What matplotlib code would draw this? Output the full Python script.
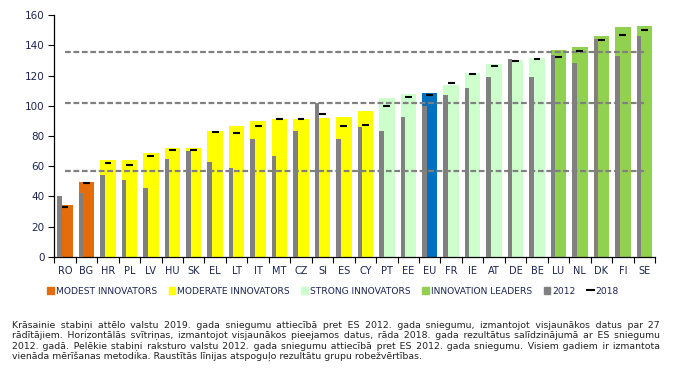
import matplotlib
matplotlib.use("Agg")
import matplotlib.pyplot as plt
from matplotlib.patches import Patch
from matplotlib.lines import Line2D

countries = ["RO", "BG", "HR", "PL", "LV", "HU", "SK", "EL", "LT", "IT", "MT", "CZ", "SI", "ES",
             "CY", "PT", "EE", "EU", "FR", "IE", "AT", "DE", "BE", "LU", "NL", "DK", "FI", "SE"]
groups = ["modest", "modest"] + ["moderate"] * 13 + ["strong", "strong", "eu"] + ["strong"] * 5 + ["leader"] * 5
perf_2019 = [34.3, 49.5, 64.1, 64.1, 68.7, 72.0, 72.0, 83.3, 86.6, 89.9, 91.3, 91.3, 91.9, 92.6,
             96.6, 105.2, 107.8, 108.5, 113.8, 121.8, 127.7, 130.4, 131.7, 137.0, 139.0, 146.3, 152.3, 152.9]
perf_2012 = [40.2, 42.2, 54.1, 50.8, 45.5, 64.8, 70.1, 62.8, 58.8, 78.0, 66.7, 83.3, 101.9, 78.0,
             86.0, 83.3, 92.6, 99.9, 107.2, 111.8, 119.1, 131.0, 119.1, 133.7, 128.4, 144.3, 133.0, 146.3]
perf_2018 = [32.9, 48.8, 62.1, 60.8, 66.7, 70.7, 70.7, 82.7, 82.0, 86.6, 91.3, 91.3, 94.6, 86.6,
             87.3, 99.9, 105.9, 107.2, 115.1, 121.1, 126.4, 129.7, 131.0, 132.4, 136.4, 143.6, 147.0, 150.3]
thresholds = [56.8, 101.9, 135.7]

group_colors = {"modest": "#E46C0A", "moderate": "#FFFF00", "strong": "#CCFFCC",
                "leader": "#92D050", "eu": "#0070C0"}
legend_labels = ["MODEST INNOVATORS", "MODERATE INNOVATORS", "STRONG INNOVATORS", "INNOVATION LEADERS"]

caption = [
    "Krāsainie stabiņi attēlo valstu 2019. gada sniegumu attiecībā pret ES 2012. gada sniegumu, izmantojot visjaunākos datus par 27",
    "rādītājiem. Horizontālās svītriņas, izmantojot visjaunākos pieejamos datus, rāda 2018. gada rezultātus salīdzinājumā ar ES sniegumu",
    "2012. gadā. Pelēkie stabiņi raksturo valstu 2012. gada sniegumu attiecībā pret ES 2012. gada sniegumu. Visiem gadiem ir izmantota",
    "vienāda mērīšanas metodika. Raustītās līnijas atspoguļo rezultātu grupu robežvērtības.",
]

W, H = 675, 384
fig = plt.figure(figsize=(W / 100, H / 100), dpi=100)
ax = fig.add_axes([54.3 / W, 1 - 256.7 / H, (655 - 54.3) / W, (256.7 - 15.3) / H])

x = list(range(len(countries)))
label_col = "#1b2550"

ax.bar(x, perf_2019, width=0.72, color=[group_colors[g] for g in groups], zorder=2)
for yv in thresholds:
    ax.plot([0, len(countries) - 1], [yv, yv], color="#808080", lw=1.6,
            dashes=(2.6, 1.2), zorder=3)
ax.bar([i - 0.36 for i in x], perf_2012, width=0.21, align="edge", color="#808080", zorder=4)
ax.hlines(perf_2018, [i - 0.16 for i in x], [i + 0.16 for i in x], color="black", lw=1.5, zorder=5)

ax.set_xlim(-0.5, len(countries) - 0.5)
ax.set_ylim(0, 160)
ax.set_yticks(range(0, 161, 20))
ax.set_xticks(x)
ax.set_xticklabels(countries)
ax.set_xticks([i - 0.5 for i in range(len(countries) + 1)], minor=True)
ax.tick_params(axis="x", which="major", length=0, pad=7, labelsize=7, labelcolor=label_col)
ax.tick_params(axis="x", which="minor", length=4, width=0.8, direction="out")
ax.tick_params(axis="y", length=4, width=0.8, pad=3, labelsize=7.5, labelcolor=label_col)
for s in ("top", "right"):
    ax.spines[s].set_visible(False)
for s in ("left", "bottom"):
    ax.spines[s].set_linewidth(0.9)

handles = [Patch(color=group_colors[g]) for g in ("modest", "moderate", "strong", "leader")]
handles += [Patch(color="#808080"), Line2D([], [], color="black", lw=1.5)]
fig.legend(handles, legend_labels + ["2012", "2018"], loc="center",
           bbox_to_anchor=(333 / W, 1 - 291 / H), ncol=6, frameon=False,
           fontsize=6.6, handlelength=0.7, handleheight=0.7, handletextpad=0.2,
           columnspacing=1.3, labelcolor=label_col)

# caption, justified by padding the word gaps with hair spaces
renderer = fig.canvas.get_renderer()
left_px, right_px = 12, 660
baselines = [327.8, 338.2, 348.5, 358.8]
cap_size = 6.75
HAIR = "\u200a"


def width_of(s):
    t = fig.text(0, 0, s, fontsize=cap_size)
    w = t.get_window_extent(renderer).width
    t.remove()
    return w


hair_w = (width_of("a" + HAIR * 10 + "a") - width_of("aa")) / 10
for li, (line, base) in enumerate(zip(caption, baselines)):
    words = line.split(" ")
    s = line
    extra = right_px - left_px - width_of(line)
    if li < len(caption) - 1 and hair_w > 0.2 and extra > 0:
        per_gap = extra / (len(words) - 1)
        s, used = words[0], 0
        for k, wd in enumerate(words[1:], start=1):
            n = int(round(per_gap * k / hair_w)) - used
            used += n
            s += " " + HAIR * n + wd
    fig.text(left_px / W, 1 - base / H, s, fontsize=cap_size, color="#222222", va="baseline")

fig.savefig("out.png", dpi=100)
